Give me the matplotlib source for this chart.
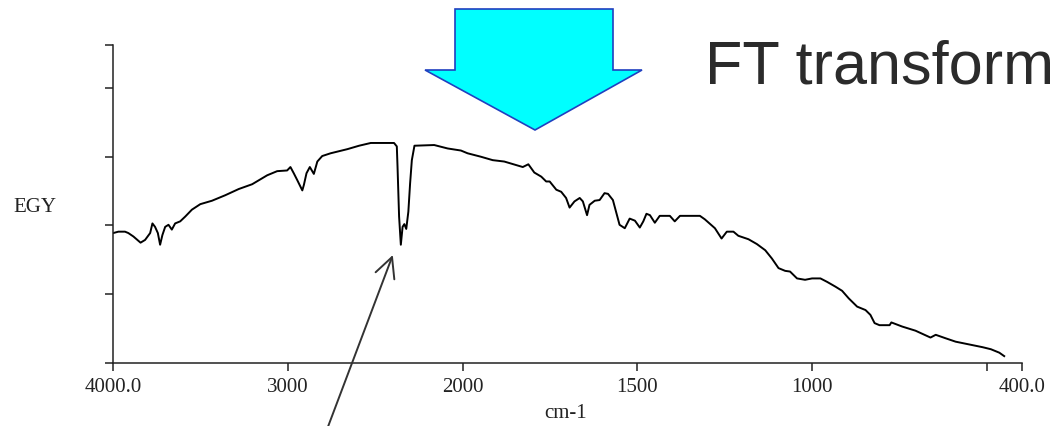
import numpy as np
import matplotlib
matplotlib.use('Agg')
import matplotlib.pyplot as plt
from matplotlib.patches import Polygon

# Спектр (волновое число, энергия)
wavenumber = [4000, 3971, 3933, 3914, 3885, 3844, 3818, 3789, 3776, 3761, 3745, 3732, 3719,
              3703, 3684, 3665, 3646, 3617, 3588, 3550, 3502, 3435, 3359, 3282, 3205, 3119,
              3062, 3005, 2986, 2967, 2947, 2918, 2909, 2894, 2875, 2852, 2832, 2804, 2756,
              2660, 2593, 2526, 2393, 2377, 2373, 2364, 2354, 2344, 2334, 2323, 2311, 2301,
              2291, 2276, 2163, 2086, 2010, 1986, 1948, 1914, 1881, 1842, 1828, 1812, 1795,
              1775, 1761, 1751, 1732, 1718, 1704, 1694, 1680, 1665, 1656, 1644, 1637, 1622,
              1608, 1594, 1584, 1570, 1560, 1551, 1536, 1522, 1507, 1493, 1483, 1474, 1464,
              1450, 1436, 1407, 1393, 1378, 1321, 1307, 1278, 1259, 1244, 1225, 1211, 1182,
              1158, 1134, 1115, 1096, 1077, 1063, 1043, 1020, 1000, 976, 957, 933, 914, 895,
              871, 847, 833, 821, 807, 778, 773, 742, 704, 670, 661, 646, 618, 589, 551, 512,
              488, 464, 450]
egy = [1.89, 1.91, 1.91, 1.89, 1.84, 1.75, 1.79, 1.89, 2.03, 1.98, 1.89, 1.72, 1.86,
       1.98, 2.01, 1.94, 2.03, 2.06, 2.13, 2.23, 2.31, 2.36, 2.44, 2.53, 2.60, 2.73,
       2.79, 2.80, 2.85, 2.76, 2.66, 2.51, 2.59, 2.76, 2.85, 2.75, 2.93, 3.01, 3.05,
       3.11, 3.16, 3.20, 3.20, 3.15, 2.86, 2.13, 1.72, 1.98, 2.02, 1.95, 2.20, 2.61,
       2.95, 3.16, 3.17, 3.12, 3.09, 3.05, 3.00, 2.95, 2.93, 2.87, 2.85, 2.89, 2.77,
       2.71, 2.64, 2.64, 2.52, 2.49, 2.40, 2.26, 2.35, 2.40, 2.35, 2.15, 2.30, 2.36,
       2.37, 2.47, 2.46, 2.37, 2.18, 2.01, 1.96, 2.10, 2.07, 1.97, 2.06, 2.17, 2.15,
       2.04, 2.14, 2.14, 2.06, 2.14, 2.14, 2.09, 1.96, 1.81, 1.91, 1.91, 1.85, 1.80,
       1.73, 1.64, 1.52, 1.38, 1.34, 1.33, 1.23, 1.21, 1.23, 1.23, 1.18, 1.11, 1.05, 0.94,
       0.82, 0.77, 0.70, 0.58, 0.55, 0.55, 0.59, 0.53, 0.47, 0.39, 0.37, 0.41, 0.36, 0.31,
       0.27, 0.23, 0.20, 0.15, 0.10]

xticks = [4000, 3000, 2000, 1500, 1000, 500, 400]
xtick_labels = ['4000.0', '3000', '2000', '1500', '1000', '', '400.0']
yticks = [0, 1, 2, 3, 4, 4.625]


def fwd(x):
    x = np.asarray(x, dtype=float)
    return np.where(x >= 2000, x, 2 * x - 2000)


def inv(y):
    y = np.asarray(y, dtype=float)
    return np.where(y >= 2000, y, (y + 2000) / 2)


fig = plt.figure(figsize=(10.51, 4.26), dpi=100)
ax = fig.add_axes([0.1078, 0.1479, 0.8643, 0.7465])

ax.plot(wavenumber, egy, color='black', linewidth=1.4)
ax.set_xscale('function', functions=(fwd, inv))
ax.set_xlim(4000, 400)
ax.set_ylim(0, 4.625)

ax.set_xticks(xticks)
ax.set_xticklabels(xtick_labels)
ax.set_yticks(yticks)
ax.set_yticklabels([])
ax.xaxis.set_minor_locator(plt.NullLocator())

serif = ['Liberation Serif', 'DejaVu Serif']
for lab in ax.get_xticklabels():
    lab.set_family(serif)
    lab.set_fontsize(15)
    lab.set_color('#222222')
ax.tick_params(direction='out', length=6, width=1.1, colors='#222222', pad=5)

for s in ['top', 'right']:
    ax.spines[s].set_visible(False)
for s in ['left', 'bottom']:
    ax.spines[s].set_linewidth(1.1)
    ax.spines[s].set_color('#222222')

fig.text(566 / 1051, 1 - 414 / 426, 'cm-1', family=serif, fontsize=15,
         ha='center', va='center', color='#222222')
fig.text(13 / 1051, 1 - 207 / 426, 'EGY', family=serif, fontsize=15,
         ha='left', va='center', color='#222222')

# Стрелка к пику CO2
ax.annotate('', xy=(2400, 1.57), xytext=(326, -6), textcoords='figure pixels',
            annotation_clip=False,
            arrowprops=dict(arrowstyle='->,head_length=0.9,head_width=0.45',
                            color='#333333', linewidth=1.4, mutation_scale=16,
                            shrinkA=0, shrinkB=0))

# Голубая стрелка и надпись (поверх, прозрачный слой)
over = fig.add_axes([0, 0, 1, 1], zorder=5)
over.set_xlim(0, 1051)
over.set_ylim(426, 0)
over.axis('off')
over.patch.set_alpha(0)
arrow_pts = [(455, 9), (613, 9), (613, 70), (642, 70), (535, 130), (425, 70), (455, 70)]
over.add_patch(Polygon(arrow_pts, closed=True, facecolor='#00FFFF',
                       edgecolor='#2040c0', linewidth=1.2))
over.text(705, 84, 'FT transform', family=['Liberation Sans', 'DejaVu Sans'],
          fontsize=44, color='#2b2b2b', ha='left', va='baseline')

plt.savefig('out.png', dpi=100)
plt.close()
